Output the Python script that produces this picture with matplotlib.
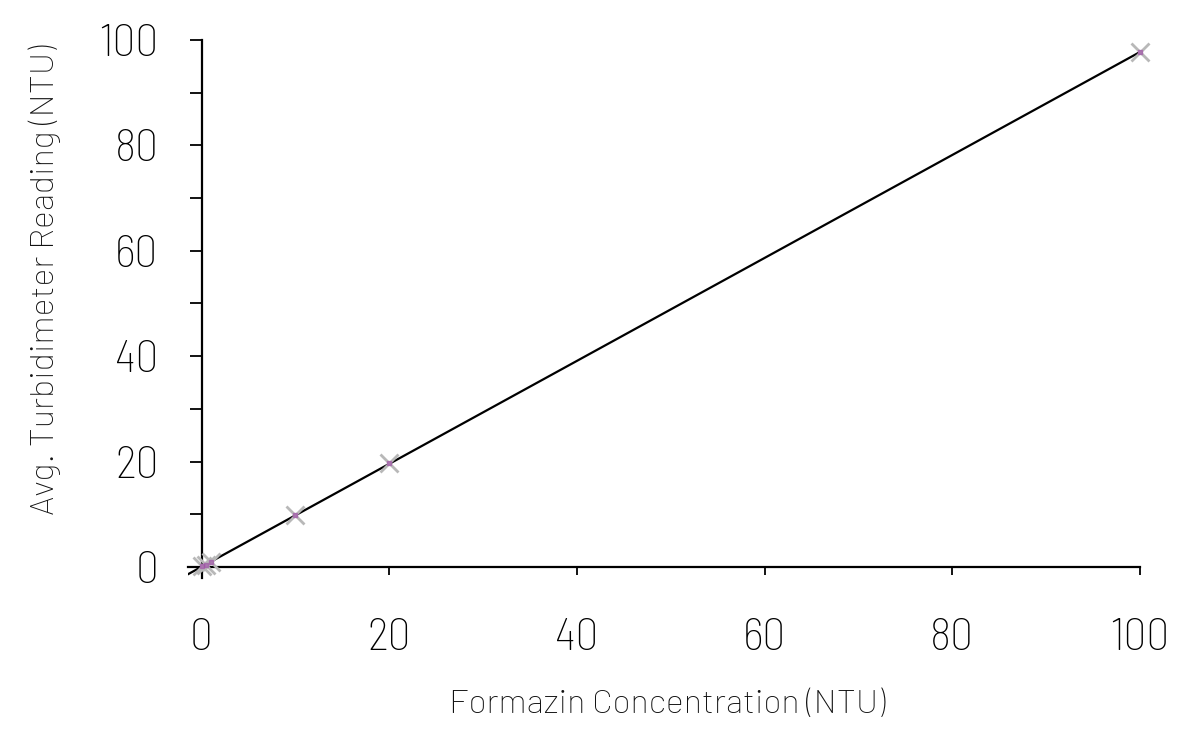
import numpy as np
import matplotlib
matplotlib.use("Agg")
import matplotlib.pyplot as plt

plt.rcParams['font.family'] = ['Barlow Semi Condensed', 'Roboto Condensed', 'DejaVu Sans']
label_family = ['Barlow', 'Roboto', 'DejaVu Sans']

# Formazin standards vs averaged readings
conc = [0.1, 0.5, 1.0, 10, 20, 100]
reading = [0.1, 0.45, 0.95, 9.8, 19.7, 97.7]

x_ticks = [0, 20, 40, 60, 80, 100]
y_major = [0, 20, 40, 60, 80, 100]
y_minor = [10, 30, 50, 70, 90]

fig = plt.figure(figsize=(12, 7.51), dpi=100)
ax = fig.add_axes([0.157, 0.2304, 0.793, 0.7163])

xlim = (-1.4, 100)
ylim = (-2.1, 100)

slope, icpt = np.polyfit(conc, reading, 1)
xs = np.array(xlim)
ax.plot(xs, slope * xs + icpt, color='black', lw=1.6, zorder=2)

ax.plot(conc, reading, ls='none', marker='x', ms=13, mew=2, color='#b8b8b8',
        zorder=3, clip_on=False)
ax.plot(conc, reading, ls='none', marker='s', ms=3.5, color='#a050a8', alpha=0.6,
        zorder=4, clip_on=False)

ax.set_xlim(xlim)
ax.set_ylim(ylim)
ax.spines['top'].set_visible(False)
ax.spines['right'].set_visible(False)
ax.spines['left'].set_position(('data', 0))
ax.spines['bottom'].set_position(('data', 0))
ax.spines['left'].set_linewidth(1.6)
ax.spines['bottom'].set_linewidth(1.6)

ax.set_xticks(x_ticks)
ax.set_yticks(y_major)
ax.set_yticks(y_minor, minor=True)
ax.tick_params(axis='x', direction='out', length=6, width=1.3, pad=31, labelsize=33)
ax.tick_params(axis='y', which='both', direction='out', length=9, width=1.3, pad=22, labelsize=33)

for lab in ax.get_xticklabels() + ax.get_yticklabels():
    lab.set_fontweight('light')

fig.text(0.556, 0.061, 'Formazin Concentration (NTU)', ha='center', va='center',
         fontsize=24.5, fontweight='light', family=label_family, color='#111111')
fig.text(0.037, 0.628, 'Avg. Turbidimeter Reading (NTU)', ha='center', va='center',
         rotation=90, fontsize=24.5, fontweight='light', family=label_family, color='#111111')

fig.savefig('out.png', dpi=100)
